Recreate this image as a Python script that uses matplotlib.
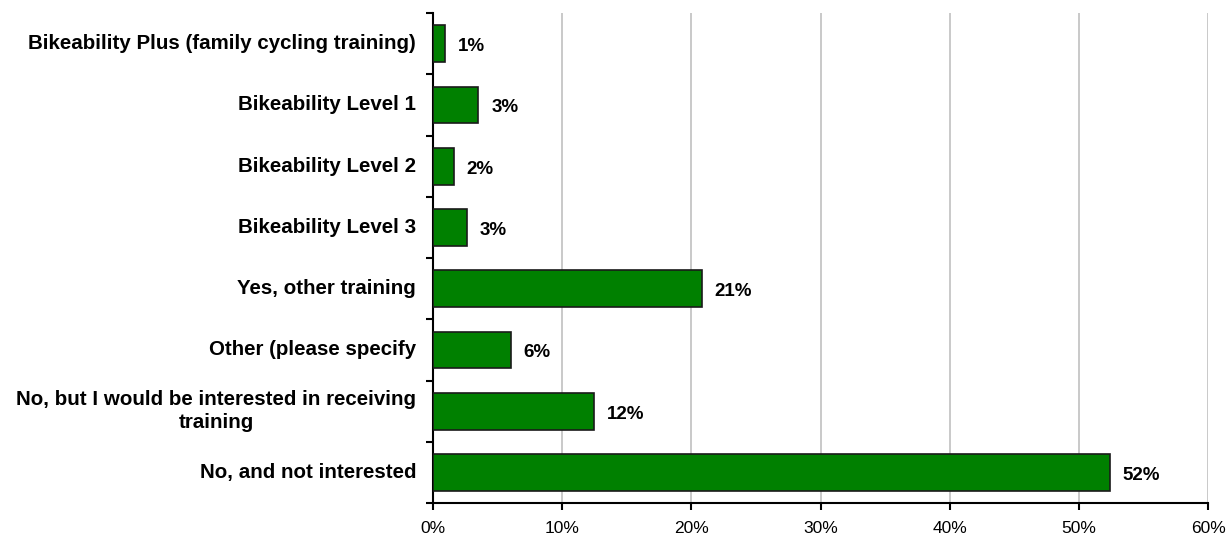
import matplotlib.pyplot as plt
import numpy as np
from matplotlib.ticker import PercentFormatter

categories = [
    'Bikeability Plus (family cycling training)',
    'Bikeability Level 1',
    'Bikeability Level 2',
    'Bikeability Level 3',
    'Yes, other training',
    'Other (please specify',
    'No, but I would be interested in receiving\ntraining',
    'No, and not interested',
]
values = [0.95, 3.5, 1.6, 2.6, 20.8, 6.0, 12.5, 52.4]
value_labels = ['1%', '3%', '2%', '3%', '21%', '6%', '12%', '52%']

plt.rcParams['font.family'] = ['Liberation Sans', 'DejaVu Sans']

fig = plt.figure(figsize=(12.26, 5.38), dpi=100)
ax = fig.add_axes([433 / 1226, 35 / 538, 775 / 1226, 490 / 538])

y_pos = np.arange(len(categories))
ax.barh(y_pos, values, height=0.6, color='#008000', edgecolor='#1a1a1a', linewidth=1.2, zorder=3)

ax.set_ylim(len(categories) - 0.5, -0.5)
ax.set_xlim(0, 60)
ax.set_xticks(np.arange(0, 61, 10))
ax.xaxis.set_major_formatter(PercentFormatter(decimals=0))
ax.tick_params(axis='x', labelsize=12.5, length=5, width=1.5, pad=8, colors='black')

# category labels sit between the tick marks on the y axis
ax.set_yticks(np.arange(-0.5, len(categories), 1))
ax.set_yticklabels([])
ax.tick_params(axis='y', length=5, width=1.5)
for y, name in zip(y_pos, categories):
    ax.text(-1.3, y, name, ha='right', va='center', multialignment='center',
            fontsize=14.8, fontweight='bold', linespacing=1.3)

ax.grid(axis='x', color='#c0c0c0', linewidth=1.2, zorder=0)
for side in ['top', 'right']:
    ax.spines[side].set_visible(False)
ax.spines['left'].set_linewidth(1.5)
ax.spines['bottom'].set_linewidth(1.5)

for y, v, lab in zip(y_pos, values, value_labels):
    ax.text(v + 1.0, y + 0.05, lab, ha='left', va='center', fontsize=13.5, fontweight='bold')

fig.savefig('out.png', dpi=100)
